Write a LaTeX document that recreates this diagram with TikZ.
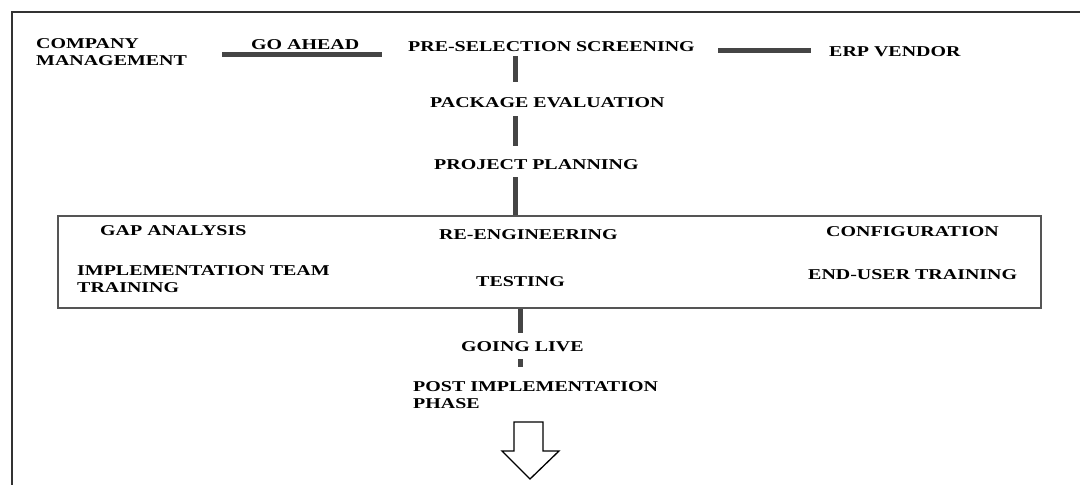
\documentclass[tikz,border=0pt]{standalone}
\usepackage{fontspec}
\setmainfont{Liberation Serif}[FakeStretch=1.33]
\definecolor{lineg}{HTML}{454545}
\definecolor{framec}{HTML}{333333}
\definecolor{boxc}{HTML}{555555}
\begin{document}
\begin{tikzpicture}[x=1pt,y=-1pt,
  lbl/.style={anchor=north west,inner sep=0pt,align=left,font=\fontsize{15}{17}\selectfont\bfseries},
  conn/.style={draw=lineg,line width=5pt},
  blockarrow/.style={draw=black,line width=1.3pt,line join=miter}]
\useasboundingbox (0,0) rectangle (1080,485);
\fill[white] (0,0) rectangle (1080,485);
% outer frame (cropped)
\draw[framec,line width=2.5pt] (12,490) -- (12,12) -- (1085,12);

% top row
\node[lbl] (cm) at (36,38) {COMPANY\\MANAGEMENT};
\node[lbl] (go) at (251,39) {GO AHEAD};
\node[lbl] (pre) at (408,41) {PRE-SELECTION SCREENING};
\node[lbl] (erp) at (829,46) {ERP VENDOR};
\node[lbl] (pack) at (430,97) {PACKAGE EVALUATION};
\node[lbl] (proj) at (434,159) {PROJECT PLANNING};

% box
\node[draw=boxc,line width=2pt,anchor=north west,inner sep=0pt,
      minimum width=983pt,minimum height=92pt] (box) at (57,215) {};
\node[lbl] (gap) at (100,225) {GAP ANALYSIS};
\node[lbl] (reeng) at (439,229) {RE-ENGINEERING};
\node[lbl] (conf) at (826,226) {CONFIGURATION};
\node[lbl] (itt) at (77,265) {IMPLEMENTATION TEAM\\TRAINING};
\node[lbl] (test) at (476,276) {TESTING};
\node[lbl] (eut) at (808,269) {END-USER TRAINING};

% bottom
\node[lbl] (live) at (461,341) {GOING LIVE};
\node[lbl] (post) at (413,381) {POST IMPLEMENTATION\\PHASE};

% connector coordinates
\coordinate (h1a) at (222,54.5);
\coordinate (h1b) at (382,54.5);
\coordinate (h2a) at (718,50.5);
\coordinate (h2b) at (811,50.5);
\coordinate (v1a) at (515,56);
\coordinate (v1b) at (515,82);
\coordinate (v2a) at (515,116);
\coordinate (v2b) at (515,146);
\coordinate (v3a) at (515,177);
\coordinate (v4b) at (520,333);
\coordinate (sqa) at (520,359);
\coordinate (sqb) at (520,367);

\draw[conn] (h1a) -- (h1b);
\draw[conn] (h2a) -- (h2b);
\draw[conn] (v1a) -- (v1b);
\draw[conn] (v2a) -- (v2b);
\draw[conn] (v3a) -- (v3a |- box.north);
\draw[conn] (v4b |- box.south) -- (v4b);
\draw[conn] (sqa) -- (sqb);

% block arrow
\coordinate (arr) at (530,422);
\draw[blockarrow] ([xshift=-16pt]arr) -- ([xshift=13pt]arr) -- ([xshift=13pt,yshift=-29pt]arr)
  -- ([xshift=29pt,yshift=-29pt]arr) -- ([yshift=-57pt]arr) -- ([xshift=-28pt,yshift=-29pt]arr)
  -- ([xshift=-16pt,yshift=-29pt]arr) -- cycle;
\end{tikzpicture}
\end{document}
